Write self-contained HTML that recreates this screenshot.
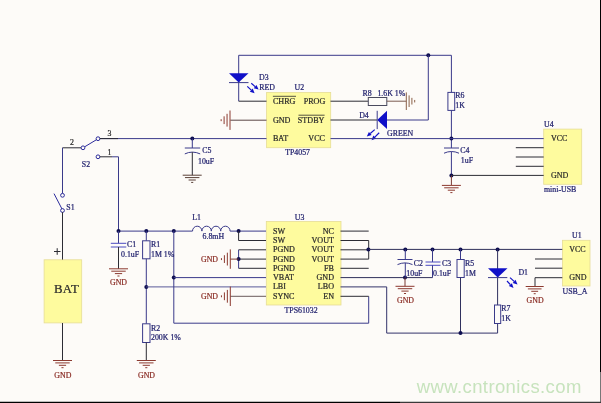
<!DOCTYPE html>
<html><head><meta charset="utf-8"><title>schematic</title>
<style>
html,body{margin:0;padding:0;background:#fdfbf8;}
body{width:601px;height:403px;overflow:hidden;font-family:"Liberation Serif",serif;}
svg{display:block;font-family:"Liberation Serif",serif;filter:blur(0.35px);}
</style></head><body>
<svg width="601" height="403" viewBox="0 0 601 403">
<rect x="0" y="0" width="601" height="403" fill="#fdfbf8"/>
<rect x="44.1" y="259.8" width="37.6" height="63.099999999999966" fill="#fefb9e" stroke="#e6dd96" stroke-width="0.8"/>
<rect x="266.6" y="92.5" width="64.09999999999997" height="55.19999999999999" fill="#fefb9e" stroke="#e6dd96" stroke-width="0.8"/>
<rect x="266.3" y="221.5" width="74.69999999999999" height="83.5" fill="#fefb9e" stroke="#e6dd96" stroke-width="0.8"/>
<rect x="543.7" y="129.1" width="38.0" height="55.20000000000002" fill="#fefb9e" stroke="#e6dd96" stroke-width="0.8"/>
<rect x="562.4" y="240.3" width="27.600000000000023" height="45.69999999999999" fill="#fefb9e" stroke="#e6dd96" stroke-width="0.8"/>
<polyline points="238.7,101.2 238.7,55.3 451.4,55.3 451.4,92.4" fill="none" stroke="#3a3a8a" stroke-width="1.0"/>
<line x1="238.7" y1="101.2" x2="266.5" y2="101.2" stroke="#2c2c34" stroke-width="1.0"/>
<polygon points="229,73.3 248.5,73.3 238.7,82.6" fill="#1010c8"/>
<line x1="229" y1="82.6" x2="248.5" y2="82.6" stroke="#3a3a8a" stroke-width="1.0"/>
<line x1="251.3" y1="83.3" x2="255.11754173108255" y2="86.59459080901644" stroke="#1010c8" stroke-width="1.2"/>
<polygon points="258.60,89.60 253.75,88.18 256.49,85.00" fill="#1010c8"/>
<line x1="247.3" y1="86.4" x2="251.25700975976844" y2="90.14018730717838" stroke="#1010c8" stroke-width="1.2"/>
<polygon points="254.60,93.30 249.81,91.67 252.70,88.61" fill="#1010c8"/>
<circle cx="428.3" cy="55.3" r="2.0" fill="#0e0e50"/>
<polyline points="428.3,55.3 428.3,120 387,120" fill="none" stroke="#3a3a8a" stroke-width="1.0"/>
<line x1="330.5" y1="120" x2="377" y2="120" stroke="#2c2c34" stroke-width="1.0"/>
<polygon points="377.2,119.9 387,110.8 387,129.1" fill="#1010c8"/>
<line x1="377.2" y1="110.8" x2="377.2" y2="129.1" stroke="#3a3a8a" stroke-width="1.0"/>
<line x1="374.7" y1="129.6" x2="370.26456810289693" y2="133.4739848215204" stroke="#1010c8" stroke-width="1.2"/>
<polygon points="366.80,136.50 368.88,131.89 371.65,135.06" fill="#1010c8"/>
<line x1="379.2" y1="132.8" x2="374.7952045244392" y2="137.0903852034683" stroke="#1010c8" stroke-width="1.2"/>
<polygon points="371.50,140.30 373.33,135.59 376.26,138.59" fill="#1010c8"/>
<line x1="330.5" y1="101.2" x2="368.3" y2="101.2" stroke="#2c2c34" stroke-width="1.0"/>
<rect x="368.3" y="97.5" width="18.5" height="8.0" fill="#fdfbf8" stroke="#4a4a5e" stroke-width="1"/>
<line x1="386.8" y1="101.2" x2="406.3" y2="101.2" stroke="#7a5a50" stroke-width="1.0"/>
<line x1="406.3" y1="92.4" x2="406.3" y2="110.0" stroke="#8a6048" stroke-width="1.0"/>
<line x1="409.1" y1="95.392" x2="409.1" y2="107.00800000000001" stroke="#8a6048" stroke-width="1.0"/>
<line x1="411.90000000000003" y1="97.85600000000001" x2="411.90000000000003" y2="104.544" stroke="#8a6048" stroke-width="1.0"/>
<line x1="414.7" y1="99.968" x2="414.7" y2="102.432" stroke="#8a6048" stroke-width="1.0"/>
<line x1="230.3" y1="120.2" x2="266.5" y2="120.2" stroke="#5a4646" stroke-width="1.0"/>
<line x1="230.0" y1="110.5" x2="230.0" y2="129.9" stroke="#8c3a30" stroke-width="1.0"/>
<line x1="227.05" y1="113.798" x2="227.05" y2="126.602" stroke="#8c3a30" stroke-width="1.0"/>
<line x1="224.1" y1="116.32000000000001" x2="224.1" y2="124.08" stroke="#8c3a30" stroke-width="1.0"/>
<line x1="221.15" y1="119.23" x2="221.15" y2="121.17" stroke="#8c3a30" stroke-width="1.0"/>
<rect x="447.9" y="92.4" width="6.800000000000011" height="18.0" fill="#fdfbf8" stroke="#3a3a8a" stroke-width="1"/>
<line x1="451.4" y1="110.4" x2="451.4" y2="148" stroke="#3a3a8a" stroke-width="1.0"/>
<circle cx="451.4" cy="138.6" r="2.0" fill="#0e0e50"/>
<line x1="444" y1="148" x2="459" y2="148" stroke="#3a3a8a" stroke-width="1.0"/>
<path d="M444,153.2 Q451.4,149.8 459,153.2" fill="none" stroke="#3a3a8a" stroke-width="1"/>
<line x1="451.4" y1="151.6" x2="451.4" y2="175.4" stroke="#3a3a8a" stroke-width="1.0"/>
<circle cx="451.4" cy="175.4" r="2.0" fill="#0e0e50"/>
<line x1="451.4" y1="175.4" x2="451.4" y2="185" stroke="#7a3a34" stroke-width="1.0"/>
<line x1="441.9" y1="185.4" x2="460.9" y2="185.4" stroke="#8c3a30" stroke-width="1.0"/>
<line x1="444.17999999999995" y1="187.8" x2="458.62" y2="187.8" stroke="#8c3a30" stroke-width="1.0"/>
<line x1="447.78999999999996" y1="190.20000000000002" x2="455.01" y2="190.20000000000002" stroke="#8c3a30" stroke-width="1.0"/>
<line x1="450.35499999999996" y1="192.6" x2="452.445" y2="192.6" stroke="#8c3a30" stroke-width="1.0"/>
<line x1="100" y1="138.6" x2="266.5" y2="138.6" stroke="#3a3a8a" stroke-width="1.0"/>
<line x1="330.5" y1="138.6" x2="543.7" y2="138.6" stroke="#3a3a8a" stroke-width="1.0"/>
<line x1="451.4" y1="175.4" x2="543.7" y2="175.4" stroke="#2c2c34" stroke-width="1.0"/>
<line x1="515.8" y1="147.7" x2="543.7" y2="147.7" stroke="#2c2c34" stroke-width="1.0"/>
<line x1="515.8" y1="157.0" x2="543.7" y2="157.0" stroke="#2c2c34" stroke-width="1.0"/>
<line x1="515.8" y1="166.3" x2="543.7" y2="166.3" stroke="#2c2c34" stroke-width="1.0"/>
<circle cx="192.3" cy="138.6" r="2.0" fill="#0e0e50"/>
<line x1="192.3" y1="138.6" x2="192.3" y2="148" stroke="#3a3a8a" stroke-width="1.0"/>
<line x1="184.8" y1="148" x2="200.2" y2="148" stroke="#3a3a8a" stroke-width="1.0"/>
<path d="M184.8,153.9 Q192.3,150.3 200.2,153.9" fill="none" stroke="#3a3a8a" stroke-width="1"/>
<line x1="192.3" y1="152.1" x2="192.3" y2="175.2" stroke="#2c2c34" stroke-width="1.0"/>
<line x1="182.7" y1="175.2" x2="201.7" y2="175.2" stroke="#5a4038" stroke-width="1.0"/>
<line x1="184.98" y1="177.6" x2="199.42" y2="177.6" stroke="#5a4038" stroke-width="1.0"/>
<line x1="188.58999999999997" y1="180.0" x2="195.81" y2="180.0" stroke="#5a4038" stroke-width="1.0"/>
<line x1="191.155" y1="182.39999999999998" x2="193.24499999999998" y2="182.39999999999998" stroke="#5a4038" stroke-width="1.0"/>
<line x1="62.5" y1="147.8" x2="81.2" y2="147.8" stroke="#2c2c34" stroke-width="1.0"/>
<line x1="62.5" y1="147.8" x2="62.5" y2="193.6" stroke="#3a3a8a" stroke-width="1.0"/>
<line x1="84.5" y1="146.9" x2="96.5" y2="139.7" stroke="#2c2c9c" stroke-width="1.0"/>
<circle cx="83" cy="147.8" r="1.9" fill="#fdfbf8" stroke="#2c2c9c" stroke-width="1"/>
<circle cx="98" cy="138.7" r="1.9" fill="#fdfbf8" stroke="#2c2c9c" stroke-width="1"/>
<circle cx="98" cy="156.8" r="1.9" fill="#fdfbf8" stroke="#2c2c9c" stroke-width="1"/>
<line x1="99.8" y1="138.6" x2="118" y2="138.6" stroke="#2c2c34" stroke-width="1.0"/>
<line x1="99.8" y1="156.8" x2="112" y2="156.8" stroke="#2c2c34" stroke-width="1.0"/>
<polyline points="112,156.8 118.5,156.8 118.5,230.9" fill="none" stroke="#3a3a8a" stroke-width="1.0"/>
<circle cx="62.5" cy="195.3" r="1.9" fill="#fdfbf8" stroke="#2c2c9c" stroke-width="1"/>
<circle cx="62.5" cy="210.5" r="1.9" fill="#fdfbf8" stroke="#2c2c9c" stroke-width="1"/>
<line x1="54" y1="193.6" x2="62" y2="209" stroke="#2c2c9c" stroke-width="1.0"/>
<line x1="62.5" y1="212.2" x2="62.5" y2="259.6" stroke="#2c2c34" stroke-width="1.0"/>
<line x1="62.5" y1="323" x2="62.5" y2="360.5" stroke="#2c2c34" stroke-width="1.0"/>
<line x1="53.0" y1="360.5" x2="72.0" y2="360.5" stroke="#8c3a30" stroke-width="1.0"/>
<line x1="55.28" y1="362.9" x2="69.72" y2="362.9" stroke="#8c3a30" stroke-width="1.0"/>
<line x1="58.89" y1="365.3" x2="66.11" y2="365.3" stroke="#8c3a30" stroke-width="1.0"/>
<line x1="61.455" y1="367.7" x2="63.545" y2="367.7" stroke="#8c3a30" stroke-width="1.0"/>
<line x1="54" y1="251.5" x2="60.5" y2="251.5" stroke="#2c2c34" stroke-width="1.0"/>
<line x1="57.2" y1="248.2" x2="57.2" y2="254.8" stroke="#2c2c34" stroke-width="1.0"/>
<line x1="118.5" y1="231.1" x2="192.5" y2="231.1" stroke="#3a3a8a" stroke-width="1.0"/>
<circle cx="118.5" cy="231.1" r="2.0" fill="#0e0e50"/>
<circle cx="146.3" cy="231.1" r="2.0" fill="#0e0e50"/>
<circle cx="173.8" cy="231.1" r="2.0" fill="#0e0e50"/>
<line x1="118.5" y1="231.1" x2="118.5" y2="243.3" stroke="#3a3a8a" stroke-width="1.0"/>
<line x1="110.8" y1="243.3" x2="126.3" y2="243.3" stroke="#4a4ac0" stroke-width="1.0"/>
<line x1="110.8" y1="247.0" x2="126.3" y2="247.0" stroke="#4a4ac0" stroke-width="1.0"/>
<line x1="118.5" y1="247" x2="118.5" y2="268.8" stroke="#2c2c34" stroke-width="1.0"/>
<line x1="109.0" y1="268.8" x2="128.0" y2="268.8" stroke="#8c3a30" stroke-width="1.0"/>
<line x1="111.28" y1="271.2" x2="125.72" y2="271.2" stroke="#8c3a30" stroke-width="1.0"/>
<line x1="114.89" y1="273.6" x2="122.11" y2="273.6" stroke="#8c3a30" stroke-width="1.0"/>
<line x1="117.455" y1="276.0" x2="119.545" y2="276.0" stroke="#8c3a30" stroke-width="1.0"/>
<line x1="146.3" y1="231.1" x2="146.3" y2="240.8" stroke="#3a3a8a" stroke-width="1.0"/>
<rect x="142.6" y="240.8" width="7.400000000000006" height="18.0" fill="#fdfbf8" stroke="#3a3a8a" stroke-width="1"/>
<line x1="146.3" y1="258.8" x2="146.3" y2="323.8" stroke="#3a3a8a" stroke-width="1.0"/>
<circle cx="146.3" cy="286.9" r="2.0" fill="#0e0e50"/>
<rect x="142.6" y="323.8" width="7.400000000000006" height="18.69999999999999" fill="#fdfbf8" stroke="#3a3a8a" stroke-width="1"/>
<line x1="146.3" y1="342.5" x2="146.3" y2="360.5" stroke="#2c2c34" stroke-width="1.0"/>
<line x1="136.8" y1="360.5" x2="155.8" y2="360.5" stroke="#8c3a30" stroke-width="1.0"/>
<line x1="139.08" y1="362.9" x2="153.52" y2="362.9" stroke="#8c3a30" stroke-width="1.0"/>
<line x1="142.69" y1="365.3" x2="149.91000000000003" y2="365.3" stroke="#8c3a30" stroke-width="1.0"/>
<line x1="145.25500000000002" y1="367.7" x2="147.345" y2="367.7" stroke="#8c3a30" stroke-width="1.0"/>
<line x1="146.3" y1="286.9" x2="266" y2="286.9" stroke="#5a5a9a" stroke-width="1.0"/>
<polyline points="173.8,231.1 173.8,323.2 368.7,323.2 368.7,296.3" fill="none" stroke="#3a3a8a" stroke-width="1.0"/>
<circle cx="173.8" cy="277.6" r="2.0" fill="#0e0e50"/>
<line x1="173.8" y1="277.6" x2="266" y2="277.6" stroke="#3a3a8a" stroke-width="1.0"/>
<line x1="340.5" y1="296.3" x2="368.7" y2="296.3" stroke="#2c2c34" stroke-width="1.0"/>
<path d="M192.5,231.1 a4.7,4.9 0 0 1 9.4,0 a4.7,4.9 0 0 1 9.4,0 a4.7,4.9 0 0 1 9.4,0 a4.7,4.9 0 0 1 9.4,0 " fill="none" stroke="#3a3a8a" stroke-width="1"/>
<line x1="230.1" y1="231.1" x2="266" y2="231.1" stroke="#3a3a8a" stroke-width="1.0"/>
<circle cx="238.6" cy="231.1" r="2.0" fill="#0e0e50"/>
<polyline points="238.6,231.1 238.6,240.5 266,240.5" fill="none" stroke="#2c2c34" stroke-width="1.0"/>
<line x1="238.6" y1="249.8" x2="266" y2="249.8" stroke="#2c2c34" stroke-width="1.0"/>
<line x1="238.6" y1="259.1" x2="266" y2="259.1" stroke="#2c2c34" stroke-width="1.0"/>
<line x1="238.6" y1="268.3" x2="266" y2="268.3" stroke="#2c2c34" stroke-width="1.0"/>
<line x1="238.6" y1="249.8" x2="238.6" y2="268.3" stroke="#3a3a8a" stroke-width="1.0"/>
<circle cx="238.6" cy="259.1" r="2.0" fill="#0e0e50"/>
<line x1="230.3" y1="259.1" x2="238.6" y2="259.1" stroke="#7a3a34" stroke-width="1.0"/>
<line x1="230.3" y1="249.40000000000003" x2="230.3" y2="268.8" stroke="#8c3a30" stroke-width="1.0"/>
<line x1="227.35000000000002" y1="252.69800000000004" x2="227.35000000000002" y2="265.502" stroke="#8c3a30" stroke-width="1.0"/>
<line x1="224.4" y1="255.22000000000003" x2="224.4" y2="262.98" stroke="#8c3a30" stroke-width="1.0"/>
<line x1="221.45000000000002" y1="258.13" x2="221.45000000000002" y2="260.07000000000005" stroke="#8c3a30" stroke-width="1.0"/>
<line x1="230.3" y1="296.3" x2="266" y2="296.3" stroke="#6a5a5a" stroke-width="1.0"/>
<line x1="230.3" y1="286.6" x2="230.3" y2="306.0" stroke="#8c3a30" stroke-width="1.0"/>
<line x1="227.35000000000002" y1="289.898" x2="227.35000000000002" y2="302.702" stroke="#8c3a30" stroke-width="1.0"/>
<line x1="224.4" y1="292.42" x2="224.4" y2="300.18" stroke="#8c3a30" stroke-width="1.0"/>
<line x1="221.45000000000002" y1="295.33" x2="221.45000000000002" y2="297.27000000000004" stroke="#8c3a30" stroke-width="1.0"/>
<line x1="340.5" y1="231.1" x2="368.7" y2="231.1" stroke="#2c2c34" stroke-width="1.0"/>
<line x1="340.5" y1="240.5" x2="368.7" y2="240.5" stroke="#2c2c34" stroke-width="1.0"/>
<line x1="340.5" y1="249.8" x2="368.7" y2="249.8" stroke="#2c2c34" stroke-width="1.0"/>
<line x1="340.5" y1="259.1" x2="368.7" y2="259.1" stroke="#2c2c34" stroke-width="1.0"/>
<line x1="368.7" y1="240.5" x2="368.7" y2="259.1" stroke="#2c2c34" stroke-width="1.0"/>
<line x1="340.5" y1="268.3" x2="368.7" y2="268.3" stroke="#2c2c34" stroke-width="1.0"/>
<circle cx="368.4" cy="249.4" r="2.0" fill="#0e0e50"/>
<line x1="368.7" y1="249.4" x2="562.3" y2="249.4" stroke="#30305a" stroke-width="1.0"/>
<circle cx="405.3" cy="249.4" r="2.0" fill="#0e0e50"/>
<circle cx="432.5" cy="249.4" r="2.0" fill="#0e0e50"/>
<circle cx="460.5" cy="249.4" r="2.0" fill="#0e0e50"/>
<circle cx="497.6" cy="249.4" r="2.0" fill="#0e0e50"/>
<line x1="340.5" y1="277.6" x2="432.5" y2="277.6" stroke="#30305a" stroke-width="1.0"/>
<circle cx="405" cy="277.6" r="2.0" fill="#0e0e50"/>
<polyline points="340.5,286.9 386.7,286.9 386.7,333.1 497.6,333.1 497.6,323.5" fill="none" stroke="#33336a" stroke-width="1.0"/>
<line x1="405.3" y1="249.4" x2="405.3" y2="259.5" stroke="#3a3a8a" stroke-width="1.0"/>
<line x1="397.5" y1="259.5" x2="412.5" y2="259.5" stroke="#3a3a8a" stroke-width="1.0"/>
<path d="M397.5,264.6 Q405,261.2 412.5,264.6" fill="none" stroke="#3a3a8a" stroke-width="1"/>
<line x1="405.3" y1="263" x2="405.3" y2="277.6" stroke="#3a3a8a" stroke-width="1.0"/>
<line x1="405" y1="277.6" x2="405" y2="286.3" stroke="#7a3a34" stroke-width="1.0"/>
<line x1="395.5" y1="286.3" x2="414.5" y2="286.3" stroke="#8c3a30" stroke-width="1.0"/>
<line x1="397.78" y1="288.7" x2="412.22" y2="288.7" stroke="#8c3a30" stroke-width="1.0"/>
<line x1="401.39" y1="291.1" x2="408.61" y2="291.1" stroke="#8c3a30" stroke-width="1.0"/>
<line x1="403.955" y1="293.5" x2="406.045" y2="293.5" stroke="#8c3a30" stroke-width="1.0"/>
<line x1="432.5" y1="249.4" x2="432.5" y2="262" stroke="#3a3a8a" stroke-width="1.0"/>
<line x1="425.5" y1="262" x2="440.5" y2="262" stroke="#4a4ac0" stroke-width="1.0"/>
<line x1="425.5" y1="265.3" x2="440.5" y2="265.3" stroke="#4a4ac0" stroke-width="1.0"/>
<line x1="432.5" y1="265.3" x2="432.5" y2="277.6" stroke="#3a3a8a" stroke-width="1.0"/>
<line x1="460.5" y1="249.4" x2="460.5" y2="259.5" stroke="#3a3a8a" stroke-width="1.0"/>
<rect x="457" y="259.5" width="7.199999999999989" height="18.0" fill="#fdfbf8" stroke="#3a3a8a" stroke-width="1"/>
<line x1="460.5" y1="277.5" x2="460.5" y2="333.1" stroke="#30305e" stroke-width="1.0"/>
<circle cx="460.5" cy="333.1" r="2.0" fill="#0e0e50"/>
<line x1="497.6" y1="249.4" x2="497.6" y2="305" stroke="#30305e" stroke-width="1.0"/>
<polygon points="488,268.3 507.5,268.3 497.7,277.6" fill="#1010c8"/>
<line x1="488" y1="277.6" x2="507.3" y2="277.6" stroke="#3a3a8a" stroke-width="1.0"/>
<line x1="510" y1="277.6" x2="514.1147173458955" y2="281.38553995822394" stroke="#1010c8" stroke-width="1.2"/>
<polygon points="517.50,284.50 512.69,282.93 515.54,279.84" fill="#1010c8"/>
<line x1="507" y1="281" x2="510.36992494291053" y2="284.62914993851905" stroke="#1010c8" stroke-width="1.2"/>
<polygon points="513.50,288.00 508.83,286.06 511.91,283.20" fill="#1010c8"/>
<rect x="494.5" y="305" width="6.199999999999989" height="18.5" fill="#fdfbf8" stroke="#3a3a8a" stroke-width="1"/>
<line x1="535" y1="259.0" x2="562.3" y2="259.0" stroke="#2c2c34" stroke-width="1.0"/>
<line x1="535" y1="268.2" x2="562.3" y2="268.2" stroke="#2c2c34" stroke-width="1.0"/>
<polyline points="562.3,277.7 535,277.7 535,286.5" fill="none" stroke="#2c2c34" stroke-width="1.0"/>
<line x1="525.7" y1="286.5" x2="543.7" y2="286.5" stroke="#8c3a30" stroke-width="1.0"/>
<line x1="527.86" y1="288.9" x2="541.5400000000001" y2="288.9" stroke="#8c3a30" stroke-width="1.0"/>
<line x1="531.2800000000001" y1="291.3" x2="538.12" y2="291.3" stroke="#8c3a30" stroke-width="1.0"/>
<line x1="533.71" y1="293.7" x2="535.69" y2="293.7" stroke="#8c3a30" stroke-width="1.0"/>
<text x="54" y="293.3" fill="#2a2a2a" stroke="#2a2a2a" stroke-width="0.22" font-size="12.8" text-anchor="start" letter-spacing="0.3">BAT</text>
<text x="272.9" y="104.0" fill="#2a2a2a" stroke="#2a2a2a" stroke-width="0.22" font-size="8.1" text-anchor="start" >CHRG</text>
<line x1="272.9" y1="96.3" x2="296" y2="96.3" stroke="#2a2a2a" stroke-width="0.8"/>
<text x="272.9" y="122.7" fill="#2a2a2a" stroke="#2a2a2a" stroke-width="0.22" font-size="8.1" text-anchor="start" >GND</text>
<text x="272.9" y="141.0" fill="#2a2a2a" stroke="#2a2a2a" stroke-width="0.22" font-size="8.1" text-anchor="start" >BAT</text>
<text x="325.3" y="104.0" fill="#2a2a2a" stroke="#2a2a2a" stroke-width="0.22" font-size="8.1" text-anchor="end" >PROG</text>
<text x="324.4" y="122.7" fill="#2a2a2a" stroke="#2a2a2a" stroke-width="0.22" font-size="8.1" text-anchor="end" >STDBY</text>
<line x1="298.5" y1="115.2" x2="324.6" y2="115.2" stroke="#2a2a2a" stroke-width="0.8"/>
<text x="325.0" y="141.0" fill="#2a2a2a" stroke="#2a2a2a" stroke-width="0.22" font-size="8.1" text-anchor="end" >VCC</text>
<text x="294.5" y="89.7" fill="#22226e" stroke="#22226e" stroke-width="0.22" font-size="7.85" text-anchor="start" >U2</text>
<text x="285.2" y="154.6" fill="#22226e" stroke="#22226e" stroke-width="0.22" font-size="7.85" text-anchor="start" >TP4057</text>
<text x="259" y="79.6" fill="#22226e" stroke="#22226e" stroke-width="0.22" font-size="7.85" text-anchor="start" >D3</text>
<text x="259.3" y="89.6" fill="#22226e" stroke="#22226e" stroke-width="0.22" font-size="7.85" text-anchor="start" >RED</text>
<text x="362.6" y="95.6" fill="#22226e" stroke="#22226e" stroke-width="0.22" font-size="7.85" text-anchor="start" >R8</text>
<text x="377.4" y="95.6" fill="#22226e" stroke="#22226e" stroke-width="0.22" font-size="7.85" text-anchor="start" >1.6K 1%</text>
<text x="359.2" y="117.6" fill="#22226e" stroke="#22226e" stroke-width="0.22" font-size="7.85" text-anchor="start" >D4</text>
<text x="387" y="136.4" fill="#22226e" stroke="#22226e" stroke-width="0.22" font-size="7.85" text-anchor="start" >GREEN</text>
<text x="455.3" y="98.1" fill="#22226e" stroke="#22226e" stroke-width="0.22" font-size="7.85" text-anchor="start" >R6</text>
<text x="455.3" y="108.0" fill="#22226e" stroke="#22226e" stroke-width="0.22" font-size="7.85" text-anchor="start" >1K</text>
<text x="460.3" y="152.5" fill="#22226e" stroke="#22226e" stroke-width="0.22" font-size="7.85" text-anchor="start" >C4</text>
<text x="460.8" y="163.2" fill="#22226e" stroke="#22226e" stroke-width="0.22" font-size="7.85" text-anchor="start" >1uF</text>
<text x="202.3" y="153.4" fill="#22226e" stroke="#22226e" stroke-width="0.22" font-size="7.85" text-anchor="start" >C5</text>
<text x="198" y="164" fill="#22226e" stroke="#22226e" stroke-width="0.22" font-size="7.85" text-anchor="start" >10uF</text>
<text x="544" y="127" fill="#22226e" stroke="#22226e" stroke-width="0.22" font-size="7.85" text-anchor="start" >U4</text>
<text x="544" y="192.3" fill="#22226e" stroke="#22226e" stroke-width="0.22" font-size="7.85" text-anchor="start" >mini-USB</text>
<text x="551.0" y="140.7" fill="#2a2a2a" stroke="#2a2a2a" stroke-width="0.22" font-size="8.0" text-anchor="start" >VCC</text>
<text x="551.0" y="178.2" fill="#2a2a2a" stroke="#2a2a2a" stroke-width="0.22" font-size="8.0" text-anchor="start" >GND</text>
<text x="70" y="145.2" fill="#2a2a2a" stroke="#2a2a2a" stroke-width="0.22" font-size="7.85" text-anchor="start" >2</text>
<text x="107.5" y="136.4" fill="#2a2a2a" stroke="#2a2a2a" stroke-width="0.22" font-size="7.85" text-anchor="start" >3</text>
<text x="107.5" y="155.2" fill="#2a2a2a" stroke="#2a2a2a" stroke-width="0.22" font-size="7.85" text-anchor="start" >1</text>
<text x="81.8" y="166.8" fill="#22226e" stroke="#22226e" stroke-width="0.22" font-size="7.85" text-anchor="start" >S2</text>
<text x="66.3" y="209.8" fill="#22226e" stroke="#22226e" stroke-width="0.22" font-size="7.85" text-anchor="start" >S1</text>
<text x="272.9" y="233.8" fill="#2a2a2a" stroke="#2a2a2a" stroke-width="0.22" font-size="8.1" text-anchor="start" >SW</text>
<text x="334.0" y="233.8" fill="#2a2a2a" stroke="#2a2a2a" stroke-width="0.22" font-size="8.1" text-anchor="end" >NC</text>
<text x="272.9" y="243.05" fill="#2a2a2a" stroke="#2a2a2a" stroke-width="0.22" font-size="8.1" text-anchor="start" >SW</text>
<text x="334.0" y="243.05" fill="#2a2a2a" stroke="#2a2a2a" stroke-width="0.22" font-size="8.1" text-anchor="end" >VOUT</text>
<text x="272.9" y="252.3" fill="#2a2a2a" stroke="#2a2a2a" stroke-width="0.22" font-size="8.1" text-anchor="start" >PGND</text>
<text x="334.0" y="252.3" fill="#2a2a2a" stroke="#2a2a2a" stroke-width="0.22" font-size="8.1" text-anchor="end" >VOUT</text>
<text x="272.9" y="261.55" fill="#2a2a2a" stroke="#2a2a2a" stroke-width="0.22" font-size="8.1" text-anchor="start" >PGND</text>
<text x="334.0" y="261.55" fill="#2a2a2a" stroke="#2a2a2a" stroke-width="0.22" font-size="8.1" text-anchor="end" >VOUT</text>
<text x="272.9" y="270.8" fill="#2a2a2a" stroke="#2a2a2a" stroke-width="0.22" font-size="8.1" text-anchor="start" >PGND</text>
<text x="334.0" y="270.8" fill="#2a2a2a" stroke="#2a2a2a" stroke-width="0.22" font-size="8.1" text-anchor="end" >FB</text>
<text x="272.9" y="280.05" fill="#2a2a2a" stroke="#2a2a2a" stroke-width="0.22" font-size="8.1" text-anchor="start" >VBAT</text>
<text x="334.0" y="280.05" fill="#2a2a2a" stroke="#2a2a2a" stroke-width="0.22" font-size="8.1" text-anchor="end" >GND</text>
<text x="272.9" y="289.3" fill="#2a2a2a" stroke="#2a2a2a" stroke-width="0.22" font-size="8.1" text-anchor="start" >LBI</text>
<text x="334.0" y="289.3" fill="#2a2a2a" stroke="#2a2a2a" stroke-width="0.22" font-size="8.1" text-anchor="end" >LBO</text>
<text x="272.9" y="298.55" fill="#2a2a2a" stroke="#2a2a2a" stroke-width="0.22" font-size="8.1" text-anchor="start" >SYNC</text>
<text x="334.0" y="298.55" fill="#2a2a2a" stroke="#2a2a2a" stroke-width="0.22" font-size="8.1" text-anchor="end" >EN</text>
<text x="294.8" y="219.5" fill="#22226e" stroke="#22226e" stroke-width="0.22" font-size="7.85" text-anchor="start" >U3</text>
<text x="284.5" y="312.7" fill="#22226e" stroke="#22226e" stroke-width="0.22" font-size="7.85" text-anchor="start" >TPS61032</text>
<text x="192.2" y="219.9" fill="#22226e" stroke="#22226e" stroke-width="0.22" font-size="7.85" text-anchor="start" >L1</text>
<text x="202.5" y="238.5" fill="#22226e" stroke="#22226e" stroke-width="0.22" font-size="7.85" text-anchor="start" >6.8mH</text>
<text x="201" y="261.8" fill="#8a2c24" stroke="#8a2c24" stroke-width="0.22" font-size="7.85" text-anchor="start" >GND</text>
<text x="201" y="299.0" fill="#8a2c24" stroke="#8a2c24" stroke-width="0.22" font-size="7.85" text-anchor="start" >GND</text>
<text x="127" y="246.5" fill="#22226e" stroke="#22226e" stroke-width="0.22" font-size="7.85" text-anchor="start" >C1</text>
<text x="121" y="257" fill="#22226e" stroke="#22226e" stroke-width="0.22" font-size="7.85" text-anchor="start" >0.1uF</text>
<text x="151" y="247" fill="#22226e" stroke="#22226e" stroke-width="0.22" font-size="7.85" text-anchor="start" >R1</text>
<text x="151" y="257" fill="#22226e" stroke="#22226e" stroke-width="0.22" font-size="7.85" text-anchor="start" >1M 1%</text>
<text x="151" y="330.5" fill="#22226e" stroke="#22226e" stroke-width="0.22" font-size="7.85" text-anchor="start" >R2</text>
<text x="151" y="339.6" fill="#22226e" stroke="#22226e" stroke-width="0.22" font-size="7.85" text-anchor="start" >200K 1%</text>
<text x="110" y="285" fill="#8a2c24" stroke="#8a2c24" stroke-width="0.22" font-size="7.85" text-anchor="start" >GND</text>
<text x="54.3" y="377.7" fill="#8a2c24" stroke="#8a2c24" stroke-width="0.22" font-size="7.85" text-anchor="start" >GND</text>
<text x="138.0" y="377.7" fill="#8a2c24" stroke="#8a2c24" stroke-width="0.22" font-size="7.85" text-anchor="start" >GND</text>
<text x="413.8" y="265.8" fill="#22226e" stroke="#22226e" stroke-width="0.22" font-size="7.85" text-anchor="start" >C2</text>
<text x="406.3" y="275.8" fill="#22226e" stroke="#22226e" stroke-width="0.22" font-size="7.85" text-anchor="start" >10uF</text>
<text x="442" y="265.8" fill="#22226e" stroke="#22226e" stroke-width="0.22" font-size="7.85" text-anchor="start" >C3</text>
<text x="433" y="275.8" fill="#22226e" stroke="#22226e" stroke-width="0.22" font-size="7.85" text-anchor="start" >0.1uF</text>
<text x="465" y="265.8" fill="#22226e" stroke="#22226e" stroke-width="0.22" font-size="7.85" text-anchor="start" >R5</text>
<text x="465" y="275.8" fill="#22226e" stroke="#22226e" stroke-width="0.22" font-size="7.85" text-anchor="start" >1M</text>
<text x="397" y="303.3" fill="#8a2c24" stroke="#8a2c24" stroke-width="0.22" font-size="7.85" text-anchor="start" >GND</text>
<text x="518.4" y="274.8" fill="#22226e" stroke="#22226e" stroke-width="0.22" font-size="7.85" text-anchor="start" >D1</text>
<text x="501.3" y="311" fill="#22226e" stroke="#22226e" stroke-width="0.22" font-size="7.85" text-anchor="start" >R7</text>
<text x="501.3" y="321.4" fill="#22226e" stroke="#22226e" stroke-width="0.22" font-size="7.85" text-anchor="start" >1K</text>
<text x="572.0" y="237.9" fill="#22226e" stroke="#22226e" stroke-width="0.22" font-size="7.85" text-anchor="start" >U1</text>
<text x="562.6" y="293.7" fill="#22226e" stroke="#22226e" stroke-width="0.22" font-size="7.85" text-anchor="start" >USB_A</text>
<text x="569.2" y="252.4" fill="#2a2a2a" stroke="#2a2a2a" stroke-width="0.22" font-size="8.0" text-anchor="start" >VCC</text>
<text x="569.2" y="280.0" fill="#2a2a2a" stroke="#2a2a2a" stroke-width="0.22" font-size="8.0" text-anchor="start" >GND</text>
<text x="526.6" y="303" fill="#8a2c24" stroke="#8a2c24" stroke-width="0.22" font-size="7.85" text-anchor="start" >GND</text>
<text x="416.8" y="393.3" fill="#c7e3bd" font-family="Liberation Sans, sans-serif" font-size="18.5" textLength="164.5" lengthAdjust="spacing">www.cntronics.com</text>
<line x1="600.5" y1="0" x2="600.5" y2="372" stroke="#000" stroke-width="1"/>
<line x1="600.5" y1="372" x2="600.5" y2="403" stroke="#777" stroke-width="1"/>
<line x1="0" y1="402.4" x2="400" y2="402.4" stroke="#000" stroke-width="1.2"/>
<line x1="400" y1="402.4" x2="601" y2="402.4" stroke="#3a3a3a" stroke-width="1.2"/>
</svg>
</body></html>
